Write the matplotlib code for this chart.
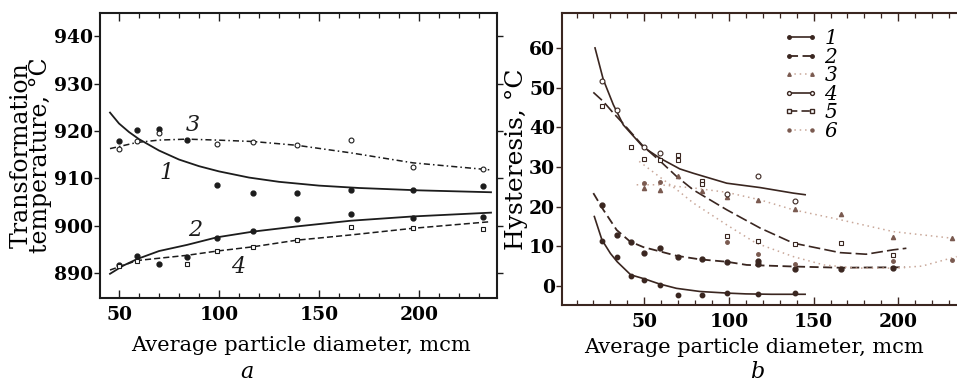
import matplotlib
matplotlib.use("Agg")
import matplotlib.pyplot as plt
from matplotlib.lines import Line2D
from matplotlib.ticker import MultipleLocator

# ---------------- Panel a data ----------------
a_x1 = [50, 59, 70, 84, 99, 117, 139, 166, 197, 232]
a_y1 = [918.0, 920.2, 920.5, 918.2, 908.6, 907.0, 907.0, 907.5, 907.6, 908.5]
a_x3 = [50, 59, 70, 99, 117, 139, 166, 197, 232]
a_y3 = [916.2, 918.0, 919.5, 917.2, 917.6, 917.0, 918.2, 912.4, 911.9]
a_x2 = [50, 59, 70, 84, 99, 117, 139, 166, 197, 232]
a_y2 = [891.8, 893.7, 892.0, 893.5, 897.4, 898.9, 901.5, 902.6, 901.6, 901.8]
a_x4 = [50, 59, 84, 99, 117, 139, 166, 197, 232]
a_y4 = [891.5, 892.5, 892.0, 894.7, 895.6, 897.0, 899.7, 899.5, 899.4]

# fitted curves
a_cx1 = [45.5, 50, 55, 60, 70, 80, 90, 100, 115, 130, 150, 170, 200, 236]
a_cy1 = [923.9, 921.6, 919.8, 918.3, 915.9, 914.0, 912.6, 911.5, 910.2, 909.3, 908.5, 908.0, 907.5, 907.1]
a_cx3 = [45.5, 59, 70, 84, 99, 117, 139, 166, 197, 236]
a_cy3 = [916.3, 917.6, 918.1, 918.3, 918.1, 917.8, 917.0, 915.4, 913.3, 911.8]
a_cx2 = [45.5, 52, 59, 70, 84, 99, 117, 139, 166, 197, 236]
a_cy2 = [889.9, 891.6, 893.0, 894.7, 896.0, 897.6, 898.8, 899.9, 901.1, 902.0, 902.8]
a_cx4 = [45.5, 59, 84, 99, 117, 139, 166, 197, 236]
a_cy4 = [890.7, 892.7, 893.8, 894.7, 895.6, 897.0, 898.1, 899.5, 900.9]

# ---------------- Panel b data ----------------
b_x1 = [25, 34, 42, 50, 59, 70, 84, 99, 117, 139]
b_y1 = [11.3, 7.3, 2.5, 1.6, 0.3, -2.4, -2.4, -1.9, -2.0, -1.9]
b_x2 = [25, 34, 42, 50, 59, 70, 84, 99, 117, 117, 139, 166, 197]
b_y2 = [20.3, 12.8, 11.1, 8.3, 9.6, 7.3, 6.7, 6.1, 5.6, 6.2, 4.3, 4.4, 4.6]
b_x3 = [50, 59, 70, 84, 99, 117, 139, 166, 197, 232]
b_y3 = [24.6, 24.2, 27.7, 24.0, 22.3, 21.6, 19.4, 18.2, 12.4, 12.0]
b_x4 = [25, 34, 50, 59, 99, 117, 139]
b_y4 = [51.6, 44.4, 35.0, 33.6, 23.2, 27.8, 21.3]
b_x5 = [25, 42, 50, 59, 70, 70, 84, 84, 99, 117, 139, 166, 197]
b_y5 = [45.3, 35.0, 32.0, 31.7, 33.0, 31.8, 26.5, 25.8, 12.6, 11.3, 10.6, 10.9, 7.8]
b_x6 = [50, 59, 99, 117, 139, 197, 232]
b_y6 = [26.0, 26.2, 11.1, 8.0, 5.6, 6.4, 6.5]

b_cx1 = [20.5, 25, 30, 34, 42, 50, 59, 69, 83, 99, 110, 125, 145]
b_cy1 = [17.5, 11.6, 8.2, 6.1, 2.8, 1.8, 0.5, -0.6, -1.4, -1.8, -2.0, -2.1, -2.1]
b_cx2 = [19.9, 25.8, 33.7, 41.6, 49.4, 59.3, 69.1, 82.9, 98.7, 110.5, 138, 165.6, 197, 204]
b_cy2 = [23.4, 19.2, 14.1, 11.2, 9.8, 8.7, 7.6, 6.7, 6.1, 5.3, 4.9, 4.6, 4.7, 4.7]
b_cx3 = [45.5, 59.3, 79, 98.7, 118.4, 138, 165.6, 197, 232.5]
b_cy3 = [25.5, 25.5, 24.7, 23.6, 21.7, 19.2, 16.7, 13.7, 12.0]
b_cx4 = [20.9, 25.8, 31.7, 37.6, 49.4, 59.3, 71, 79, 98.7, 118.4, 138, 145]
b_cy4 = [60.0, 52.0, 45.7, 40.6, 35.0, 32.2, 29.5, 28.4, 25.9, 24.8, 23.4, 23.0]
b_cx5 = [19.9, 25.8, 31.7, 37.6, 49.4, 59.3, 69.1, 79, 98.7, 118.4, 138, 165.6, 181, 197, 204.8]
b_cy5 = [48.8, 46.5, 43.6, 40.9, 35.2, 31.5, 27.6, 24.2, 19.2, 14.6, 10.8, 8.4, 8.0, 9.1, 9.5]
b_cx6 = [47, 59, 70, 79, 98.7, 116, 138, 156, 175, 197, 214, 234.5]
b_cy6 = [31.4, 27.5, 24.0, 20.9, 15.4, 10.8, 7.4, 5.3, 4.5, 4.5, 5.0, 7.4]

xlabel = "Average particle diameter, mcm"
ylabel_a = "Transformation\ntemperature, \u00b0C"
ylabel_b = "Hysteresis, \u00b0C"

SERIF = ["DejaVu Serif"]
plt.rcParams["font.family"] = SERIF

dark = "#1c1c1c"
brown = "#3a2620"
faint = "#c9a89a"
midb = "#7a5a50"

fig = plt.figure(figsize=(9.57, 3.85), dpi=100)
W, H = 957, 385

def frame(l, t, r, b):
    return fig.add_axes([l / W, 1 - b / H, (r - l) / W, (b - t) / H])

axa = frame(100, 13, 497, 298)
axb = frame(562, 13, 957, 305)

tickfs = 13.5
labfs = 15

# ---- Panel a ----
axa.plot(a_cx1, a_cy1, ls="-", color=dark, lw=1.3)
axa.plot(a_cx3, a_cy3, ls=(0, (4, 2, 1, 2)), color=dark, lw=1.1)
axa.plot(a_cx2, a_cy2, ls="-", color=dark, lw=1.3)
axa.plot(a_cx4, a_cy4, ls=(0, (4, 2)), color=dark, lw=1.1)
axa.plot(a_x1, a_y1, "o", ms=3.5, color=dark, ls="none")
axa.plot(a_x2, a_y2, "o", ms=3.5, color=dark, ls="none")
axa.plot(a_x3, a_y3, "o", ms=3.5, mfc="white", mec=dark, mew=0.8, ls="none")
axa.plot(a_x4, a_y4, "s", ms=3.0, mfc="white", mec=dark, mew=0.8, ls="none")

lab_kw = dict(fontsize=16, style="italic", color=dark, ha="center", va="center")
axa.text(74, 911.2, "1", **lab_kw)
axa.text(87, 921.2, "3", **lab_kw)
axa.text(88, 899.2, "2", **lab_kw)
axa.text(109.5, 891.3, "4", **lab_kw)

axa.set_xlim(40.5, 239)
axa.set_ylim(884.8, 944.9)
axa.xaxis.set_major_locator(MultipleLocator(50))
axa.xaxis.set_minor_locator(MultipleLocator(10))
axa.yaxis.set_major_locator(MultipleLocator(10))
axa.set_xlabel(xlabel, fontsize=labfs)
axa.xaxis.set_label_coords(0.506, -0.135)
axa.set_ylabel(ylabel_a, fontsize=17, linespacing=0.82)
axa.yaxis.set_label_coords(-0.12, 0.5)
axa.text(0.37, -0.26, "a", transform=axa.transAxes, fontsize=16, style="italic",
         ha="center", va="center")

# ---- Panel b ----
axb.plot(b_cx1, b_cy1, ls="-", color=brown, lw=1.2)
axb.plot(b_cx2, b_cy2, ls=(0, (5, 2.5)), color=brown, lw=1.3)
axb.plot(b_cx3, b_cy3, ls=(0, (1, 2.5)), color=faint, lw=1.1)
axb.plot(b_cx4, b_cy4, ls="-", color=brown, lw=1.2)
axb.plot(b_cx5, b_cy5, ls=(0, (7, 2.5)), color=brown, lw=1.2)
axb.plot(b_cx6, b_cy6, ls=(0, (1, 2.5)), color=faint, lw=1.1)

axb.plot(b_x1, b_y1, "o", ms=3.2, color=brown, ls="none")
axb.plot(b_x2, b_y2, "o", ms=3.5, color=brown, ls="none")
axb.plot(b_x3, b_y3, "^", ms=3.0, color=midb, ls="none")
axb.plot(b_x4, b_y4, "o", ms=3.5, mfc="white", mec=brown, mew=0.8, ls="none")
axb.plot(b_x5, b_y5, "s", ms=3.2, mfc="white", mec=brown, mew=0.8, ls="none")
axb.plot(b_x6, b_y6, "o", ms=2.5, color=midb, ls="none")

handles = [
    Line2D([], [], color=brown, ls="-", lw=1.2, marker="o", ms=2.5),
    Line2D([], [], color=brown, ls=(0, (5, 2.5)), lw=1.3, marker="o", ms=2.5),
    Line2D([], [], color=faint, ls=(0, (1, 2.5)), lw=1.1, marker="^", ms=2.5, mfc=midb, mec=midb),
    Line2D([], [], color=brown, ls="-", lw=1.2, marker="o", ms=2.8, mfc="white", mec=brown),
    Line2D([], [], color=brown, ls=(0, (5, 2.5)), lw=1.2, marker="s", ms=2.8, mfc="white", mec=brown),
    Line2D([], [], color=faint, ls=(0, (1, 2.5)), lw=1.1, marker="o", ms=2.2, mfc=midb, mec=midb),
]
axb.legend(handles, ["1", "2", "3", "4", "5", "6"], loc="upper left",
           bbox_to_anchor=(0.56, 0.945), frameon=False, numpoints=2,
           handlelength=1.75, handletextpad=0.3, labelspacing=-0.02,
           borderpad=0, borderaxespad=0,
           prop=dict(family=SERIF, style="italic", size=14.5))

axb.set_xlim(1.4, 234.7)
axb.set_ylim(-4.8, 68.8)
axb.xaxis.set_major_locator(MultipleLocator(50))
axb.xaxis.set_minor_locator(MultipleLocator(10))
axb.yaxis.set_major_locator(MultipleLocator(10))
axb.spines["right"].set_visible(False)
axb.set_xlabel(xlabel, fontsize=labfs)
axb.xaxis.set_label_coords(0.486, -0.112)
axb.set_ylabel(ylabel_b, fontsize=18)
axb.yaxis.set_label_coords(-0.086, 0.5)
axb.text(0.495, -0.23, "b", transform=axb.transAxes, fontsize=16, style="italic",
         ha="center", va="center")

for ax, sc in ((axa, dark), (axb, brown)):
    for s in ax.spines.values():
        s.set_linewidth(1.5)
        s.set_color(sc)
    ax.tick_params(axis="x", which="both", direction="in", top=True,
                   labelsize=tickfs, color=sc, pad=6)
    ax.tick_params(axis="x", which="major", length=6, width=1.0)
    ax.tick_params(axis="x", which="minor", length=3.5, width=0.9)
    ax.tick_params(axis="y", which="major", direction="out", length=4, width=1.0,
                   labelsize=tickfs, color=sc, pad=1)
    for lab in ax.get_xticklabels() + ax.get_yticklabels():
        lab.set_fontweight("bold")
axa.tick_params(axis="y", right=True)
axb.tick_params(axis="y", right=False)

fig.savefig("out.png", dpi=100, facecolor="white")
